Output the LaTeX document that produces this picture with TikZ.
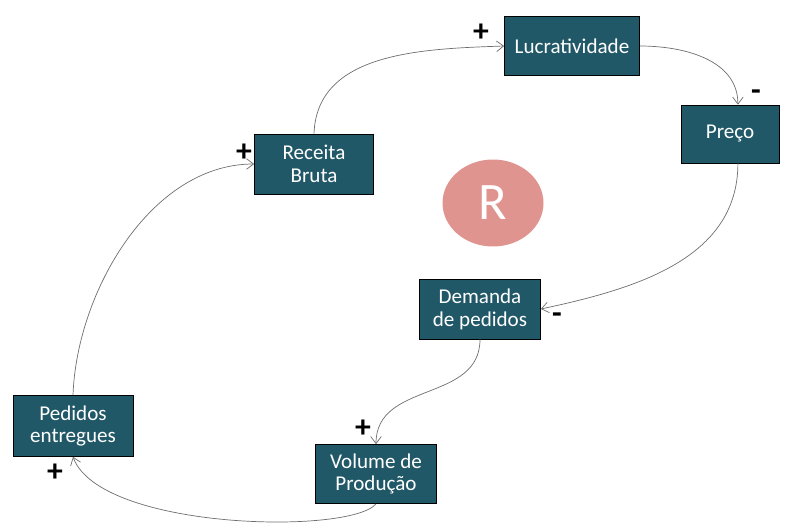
\documentclass[tikz,border=0pt]{standalone}
\usepackage{fontspec}
\setmainfont{Carlito}
\usetikzlibrary{arrows.meta,shapes.geometric}
\definecolor{boxteal}{RGB}{33,88,104}
\definecolor{loopred}{RGB}{224,148,144}
\definecolor{linkgray}{RGB}{110,110,110}
\tikzset{
  var/.style={draw=black, fill=boxteal, text=white, align=center, font=\fontsize{12}{13}\selectfont, inner sep=0pt},
  link/.style={draw=linkgray, thin, -{Straight Barb[length=4pt,width=6pt]}},
  sign/.style={font=\fontsize{18}{18}\selectfont\bfseries}
}
\begin{document}
\begin{tikzpicture}[x=0.02cm, y=-0.02cm]
    \useasboundingbox (0,0) rectangle (790,527);
    % Variables of the loop
    \node[var, minimum width=2.7cm, minimum height=1.18cm] (lu) at (572,46) {Lucratividade};
    \node[var, minimum width=1.96cm, minimum height=1.16cm] (pr) at (730,134) {Preço};
    \node[var, minimum width=2.38cm, minimum height=1.2cm] (rb) at (314,164) {Receita\\Bruta};
    \node[var, minimum width=2.42cm, minimum height=1.2cm] (dp) at (480,309) {Demanda\\de pedidos};
    \node[var, minimum width=2.4cm, minimum height=1.22cm] (pe) at (73,426) {Pedidos\\entregues};
    \node[var, minimum width=2.42cm, minimum height=1.18cm] (vp) at (376,474) {Volume de\\Produção};
    % Loop marker
    \node[ellipse, fill=loopred, minimum width=2.02cm, minimum height=1.74cm, text=white, font=\fontsize{30}{30}\selectfont] (r) at (493,203) {R};
    % Causal links
    \draw[link] (rb.north) to[out=88, in=182] (lu.west);
    \draw[link] (lu.east) to[out=0, in=90] ([xshift=4.5pt]pr.north);
    \draw[link] ([xshift=4.5pt]pr.south) to[out=-90, in=12] (dp.east);
    \draw[link] (dp.south) to[out=-90, in=90, looseness=1.1] (vp.north);
    \draw[link] (vp.south) .. controls (350,535) and (100,530) .. (pe.south);
    \draw[link] (pe.north) to[out=88, in=180, looseness=0.9] (rb.west);
    % Polarities
    \node[sign] (s1) at (481,33) {+};
    \node[sign] (s2) at (756,95) {-};
    \node[sign] (s3) at (557,318) {-};
    \node[sign] (s4) at (363,429) {+};
    \node[sign] (s5) at (55,473) {+};
    \node[sign] (s6) at (244,153) {+};
\end{tikzpicture}
\end{document}
